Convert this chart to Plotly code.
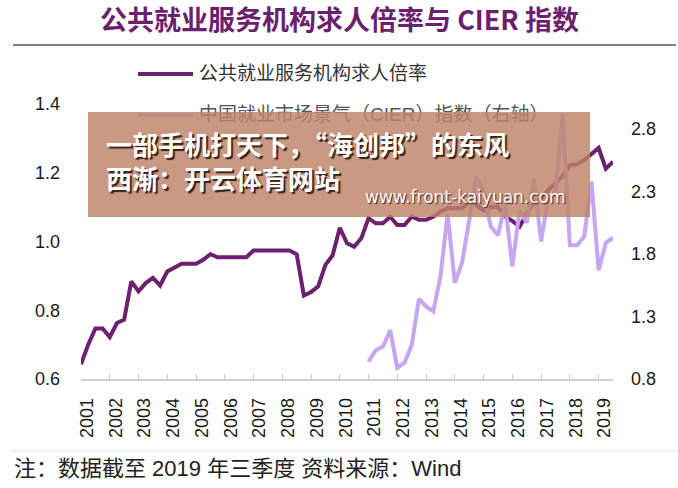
import plotly.graph_objects as go

# ---------------- data ----------------
years = list(range(2001, 2020))
year_labels = [str(y) for y in years]

# 公共就业服务机构求人倍率, quarterly 2001Q1 - 2019Q3
ratio_quarters = [f"{y}Q{q}" for y in range(2001, 2020) for q in range(1, 5)][:75]
ratio = [
    0.643, 0.700, 0.747, 0.747,
    0.722, 0.763, 0.773, 0.884,
    0.855, 0.879, 0.894, 0.872,
    0.913, 0.923, 0.935, 0.935,
    0.935, 0.947, 0.963, 0.954,
    0.954, 0.954, 0.954, 0.954,
    0.974, 0.974, 0.974, 0.974,
    0.974, 0.974, 0.963, 0.843,
    0.853, 0.870, 0.932, 0.960,
    1.040, 0.995, 0.985, 1.010,
    1.068, 1.053, 1.053, 1.072,
    1.048, 1.048, 1.072, 1.063,
    1.063, 1.072, 1.087, 1.097,
    1.097, 1.097, 1.116, 1.106,
    1.090, 1.100, 1.100, 1.072,
    1.060, 1.043, 1.080, 1.116,
    1.125, 1.150, 1.170, 1.190,
    1.222, 1.225, 1.237, 1.255,
    1.272, 1.212, 1.232,
]

# 中国就业市场景气（CIER）指数, quarterly 2011Q1 - 2019Q3
cier_quarters = [f"{y}Q{q}" for y in range(2011, 2020) for q in range(1, 5)][:35]
cier = [
    0.94, 1.03, 1.06, 1.19,
    0.89, 0.93, 1.07, 1.44,
    1.38, 1.34, 1.62, 2.12,
    1.57, 1.73, 2.07, 2.42,
    2.30, 2.02, 1.95, 2.20,
    1.70, 2.15, 2.05, 2.40,
    1.90, 2.25, 2.30, 2.92,
    1.87, 1.87, 1.94, 2.38,
    1.67, 1.89, 1.93,
]

left_ticks = [0.6, 0.8, 1.0, 1.2, 1.4]
right_ticks = [0.8, 1.3, 1.8, 2.3, 2.8]

name_ratio = "公共就业服务机构求人倍率"
name_cier = "中国就业市场景气（CIER）指数（右轴）"
title_text = "公共就业服务机构求人倍率与 CIER 指数"
note_text = "注：数据截至 2019 年三季度 资料来源：Wind"
banner_lines = ["一部手机打天下，“海创邦”的东风", "西渐：开云体育网站"]
banner_url = "www.front-kaiyuan.com"


def q_to_num(s):
    y, q = s.split("Q")
    return int(y) + (int(q) - 1) / 4


x_ratio = [q_to_num(s) for s in ratio_quarters]
x_cier = [q_to_num(s) for s in cier_quarters]

# ---------------- styling / layout ----------------
W, H = 678, 488
L, R, T, B = 81, 613, 104, 379
DARK = "#6d1f70"
LIGHT = "#c6a6f2"
CJK = "Liberation Sans, Noto Sans CJK SC, sans-serif"


def px(x):
    return (x - L) / (R - L)


def py(y):
    return (B - y) / (B - T)


fig = go.Figure()
fig.add_trace(go.Scatter(x=x_ratio, y=ratio, mode="lines", name=name_ratio,
                         line=dict(color=DARK, width=4), yaxis="y",
                         showlegend=False, hoverinfo="skip"))
fig.add_trace(go.Scatter(x=x_cier, y=cier, mode="lines", name=name_cier,
                         line=dict(color=LIGHT, width=4), yaxis="y2",
                         showlegend=False, hoverinfo="skip"))

shapes = [
    dict(type="line", xref="paper", yref="paper", x0=px(13), x1=px(676),
         y0=py(45), y1=py(45), line=dict(color="#808080", width=2)),
    dict(type="line", xref="paper", yref="paper", x0=px(138), x1=px(193),
         y0=py(74), y1=py(74), line=dict(color=DARK, width=4)),
    dict(type="line", xref="paper", yref="paper", x0=px(138), x1=px(193),
         y0=py(115), y1=py(115), line=dict(color=LIGHT, width=4)),
    dict(type="line", xref="paper", yref="paper", x0=px(10), x1=px(678),
         y0=py(451), y1=py(451), line=dict(color="#e2e2e2", width=1)),
]

shadow = "2px 2px 1px rgba(40,20,10,0.9)"
annotations = [
    dict(text=title_text, x=px(339), y=py(18), xref="paper", yref="paper",
         xanchor="center", yanchor="middle", showarrow=False,
         font=dict(family="Noto Sans CJK SC, Liberation Sans", size=27,
                   color="#6b1f6e", weight="bold")),
    dict(text=name_ratio, x=px(197), y=py(74), xref="paper", yref="paper",
         xanchor="left", yanchor="middle", showarrow=False,
         font=dict(family=CJK, size=19, color="#333333")),
    dict(text=name_cier, x=px(197), y=py(114), xref="paper", yref="paper",
         xanchor="left", yanchor="middle", showarrow=False,
         font=dict(family=CJK, size=19, color="#555555")),
    dict(text=note_text, x=px(12), y=py(468), xref="paper", yref="paper",
         xanchor="left", yanchor="middle", showarrow=False,
         font=dict(family=CJK, size=22, color="#222222")),
    # overlay banner
    dict(text=" ", x=px(88), y=py(112), xref="paper", yref="paper",
         xanchor="left", yanchor="top", showarrow=False, width=502, height=105,
         bgcolor="rgba(190,130,105,0.82)", borderpad=0, borderwidth=0),
    dict(text="<br>".join(banner_lines), x=px(104), y=py(160), xref="paper",
         yref="paper", xanchor="left", yanchor="middle", align="left",
         showarrow=False,
         font=dict(family="Noto Sans CJK SC", size=26, color="white",
                   weight="bold", shadow=shadow)),
    dict(text=banner_url, x=px(363), y=py(197), xref="paper", yref="paper",
         xanchor="left", yanchor="middle", showarrow=False,
         font=dict(family="DejaVu Sans", size=17, color="white",
                   shadow="1px 1px 1px rgba(40,20,10,0.9)")),
]

fig.update_layout(
    width=W, height=H,
    margin=dict(l=L, r=W - R, t=T, b=H - B, pad=0),
    paper_bgcolor="white", plot_bgcolor="white",
    showlegend=False,
    shapes=shapes, annotations=annotations,
    xaxis=dict(range=[2001, 2019.5], tickmode="array", tickvals=years,
               ticktext=year_labels, tickangle=-90, ticks="inside", ticklen=5,
               tickcolor="#cccccc", showline=True, linecolor="#cfcfcf",
               linewidth=1.5, showgrid=False, zeroline=False,
               ticklabelstandoff=10, ticklabelshift=6,
               tickfont=dict(family="Liberation Sans", size=18, color="#1a1a1a")),
    yaxis=dict(range=[0.6, 1.4], tickmode="array", tickvals=left_ticks,
               tickformat=".1f", showline=False, ticks="", showgrid=False,
               zeroline=False, ticklabelstandoff=20,
               tickfont=dict(family="Liberation Sans", size=18, color="#1a1a1a")),
    yaxis2=dict(range=[0.8, 3.0], tickmode="array", tickvals=right_ticks,
                tickformat=".1f", overlaying="y", side="right", showline=False,
                ticks="", showgrid=False, zeroline=False, ticklabelstandoff=17,
                tickfont=dict(family="Liberation Sans", size=18, color="#1a1a1a")),
)

fig.write_html("out.html")
